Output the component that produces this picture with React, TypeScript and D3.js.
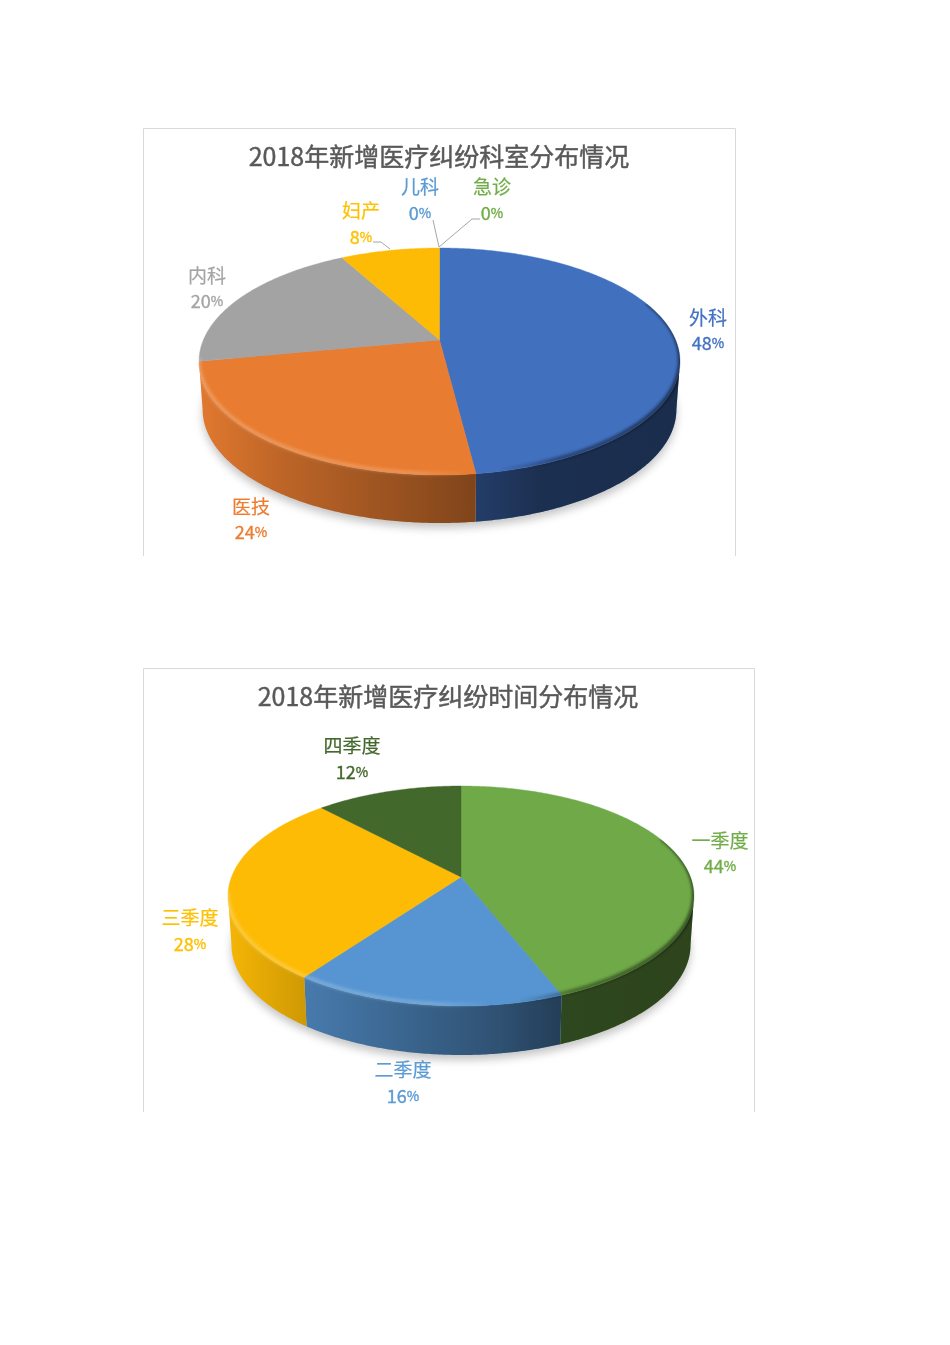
import React from "react";
import * as d3 from "d3";

// ---- data ----
const title1 = "2018年新增医疗纠纷科室分布情况";
const depts = ["外科", "医技", "内科", "妇产", "儿科", "急诊"];
const deptValues = [48, 24, 20, 8, 0, 0];
const deptColors = ["#4170bf", "#e87c30", "#a3a3a3", "#fdbb05", "#5b9bd5", "#70ad47"];
const deptTextColors = ["#4472c4", "#ed7d31", "#a5a5a5", "#ffc000", "#5b9bd5", "#70ad47"];

const title2 = "2018年新增医疗纠纷时间分布情况";
const quarters = ["一季度", "二季度", "三季度", "四季度"];
const quarterValues = [44, 16, 28, 12];
const quarterColors = ["#6fa948", "#5695d2", "#fdbb05", "#43682b"];
const quarterTextColors = ["#70ad47", "#5b9bd5", "#ffc000", "#43682b"];

// ---- layout (kept apart from the data) ----
const deptLabelPos: [number, number, number][] = [
  [708, 316, 342], [251, 505, 531], [207, 274, 300], [361, 209, 236], [420, 185, 212], [492, 185, 212],
];
const quarterLabelPos: [number, number, number][] = [
  [720, 839, 865], [403, 1068, 1095], [190, 916, 943], [352, 744, 771],
];
const deptLeaders: [number, number][][] = [
  [[373, 242], [381, 242], [390, 249]],
  [[433, 220], [439, 247]],
  [[480, 219], [472, 219], [439, 247]],
];

type Geo = { id: string; cx: number; apexY: number; top: number; bottom: number; rx: number; depth: number };
const geo1: Geo = { id: "a", cx: 439.5, apexY: 340, top: 248, bottom: 475, rx: 240.5, depth: 48 };
const geo2: Geo = { id: "b", cx: 461, apexY: 877, top: 786, bottom: 1006, rx: 233, depth: 49 };

const FONT = "'Noto Sans CJK SC','Noto Sans',sans-serif";

function projector(g: Geo) {
  const up = g.apexY - g.top;
  const down = g.bottom - g.apexY;
  const k = (down - up) / (down + up);
  const b = up * (1 + k);
  const a = g.rx * Math.sqrt(1 - k * k);
  const project = (t: number): [number, number] => {
    const u = Math.sin(t);
    const v = -Math.cos(t);
    const w = 1 - k * v;
    return [g.cx + (a * u) / w, g.apexY + (b * v) / w];
  };
  const extreme = Math.acos(-k); // angle of the right-most rim point
  return { project, extreme };
}

const line = d3.line();
const arcPts = (f: (t: number) => [number, number], s: number, e: number) => {
  const n = Math.max(2, Math.ceil(Math.abs(e - s) / 0.01));
  return d3.range(n + 1).map((i) => f(s + ((e - s) * i) / n));
};

function Pie3D({ g, values, colors }: { g: Geo; values: number[]; colors: string[] }) {
  const { project, extreme } = projector(g);
  const pie = d3.pie<number>().sort(null).value((d) => d)(values);
  const frontS = extreme;
  const frontE = 2 * Math.PI - extreme;
  const lower = (p: [number, number]): [number, number] => [g.cx + (p[0] - g.cx) * 0.985, p[1] + g.depth];

  const sidePath = (s: number, e: number) => {
    const top = arcPts(project, s, e);
    const bot = top.map(lower).reverse();
    return line([...top, ...bot]) + "Z";
  };
  const facePath = (s: number, e: number) =>
    line([[g.cx, g.apexY], ...arcPts(project, s, e)]) + "Z";

  const shadowPts = arcPts(project, 0, 2 * Math.PI).map((p) => lower(p));
  const x1 = g.cx - g.rx;
  const x2 = g.cx + g.rx;
  const shadeStops: [number, number][] = [[0, 0.03], [0.165, 0.18], [0.576, 0.45], [0.71, 0.58], [1, 0.6]];

  return (
    <g>
      <defs>
        <linearGradient id={`shade-${g.id}`} gradientUnits="userSpaceOnUse" x1={x1} x2={x2} y1={0} y2={0}>
          {shadeStops.map(([o, a]) => (
            <stop key={o} offset={o} stopColor="#000" stopOpacity={a} />
          ))}
        </linearGradient>
        <linearGradient id={`rim-${g.id}`} gradientUnits="userSpaceOnUse" x1={x1} x2={x2} y1={0} y2={0}>
          <stop offset={0} stopColor="#fff" stopOpacity={0.22} />
          <stop offset={0.45} stopColor="#fff" stopOpacity={0.18} />
          <stop offset={0.56} stopColor="#fff" stopOpacity={0} />
          <stop offset={0.62} stopColor="#000" stopOpacity={0} />
          <stop offset={0.75} stopColor="#000" stopOpacity={0.4} />
          <stop offset={1} stopColor="#000" stopOpacity={0.55} />
        </linearGradient>
        <clipPath id={`body-${g.id}`}>
          <path d={facePath(0, 2 * Math.PI)} />
          <path d={sidePath(frontS, frontE)} />
        </clipPath>
        <filter id={`sb-${g.id}`} x="-10%" y="-10%" width="120%" height="130%">
          <feGaussianBlur stdDeviation={4} />
        </filter>
        <filter id={`rb-${g.id}`} x="-5%" y="-5%" width="110%" height="110%">
          <feGaussianBlur stdDeviation={1.8} />
        </filter>
      </defs>
      <path d={line(shadowPts)! + "Z"} fill="#8a8a8a" opacity={0.5} transform={`translate(0,5)`} filter={`url(#sb-${g.id})`} />
      {pie.map((d, i) => {
        const s = Math.max(d.startAngle, frontS);
        const e = Math.min(d.endAngle, frontE);
        if (e <= s) return null;
        return (
          <g key={i}>
            <path d={sidePath(s, e)} fill={colors[i]} />
            <path d={sidePath(s, e)} fill={`url(#shade-${g.id})`} />
          </g>
        );
      })}
      {pie.map((d, i) =>
        d.endAngle > d.startAngle ? (
          <path key={i} d={facePath(d.startAngle, d.endAngle)} fill={colors[i]} stroke={colors[i]} strokeWidth={0.4} />
        ) : null
      )}
      <g clipPath={`url(#body-${g.id})`}>
        <path
          d={line(arcPts(project, extreme - 0.55, 2 * Math.PI - extreme + 0.02))!}
          fill="none"
          stroke={`url(#rim-${g.id})`}
          strokeWidth={4}
          transform="translate(0,-1.5)"
          filter={`url(#rb-${g.id})`}
        />
      </g>
    </g>
  );
}

function Label({ x, y, text, color }: { x: number; y: number; text: string; color: string }) {
  return (
    <text x={x} y={y} textAnchor="middle" dominantBaseline="central" fontSize={19} fontFamily={FONT} fill={color} stroke={color} strokeWidth={0.2}>
      {text}
    </text>
  );
}

function Pct({ x, y, value, color }: { x: number; y: number; value: number; color: string }) {
  return (
    <text x={x} y={y} textAnchor="middle" dominantBaseline="central" fontSize={18} fontFamily={FONT} fill={color} stroke={color} strokeWidth={0.35}>
      {value}
      <tspan fontSize={13.5}>%</tspan>
    </text>
  );
}

function Title({ x, y, text }: { x: number; y: number; text: string }) {
  return (
    <text x={x} y={y} textAnchor="middle" dominantBaseline="central" fontSize={25} fontFamily={FONT} fill="#595959" stroke="#595959" strokeWidth={0.45}>
      {text}
    </text>
  );
}

function Frame({ x0, x1, y0, y1 }: { x0: number; x1: number; y0: number; y1: number }) {
  return (
    <path d={`M${x0 + 0.5},${y1}V${y0 + 0.5}H${x1 + 0.5}V${y1}`} fill="none" stroke="#d9d9d9" strokeWidth={1} />
  );
}

export default function App() {
  return (
    <svg width={950} height={1345} viewBox="0 0 950 1345" style={{ position: "absolute", left: 0, top: 0, background: "#fff", filter: "blur(0.55px)" }}>
      <Frame x0={143} x1={735} y0={128} y1={556} />
      <Title x={439} y={155} text={title1} />
      <Pie3D g={geo1} values={deptValues} colors={deptColors} />
      {deptLeaders.map((pts, i) => (
        <path key={i} d={line(pts)!} fill="none" stroke="#a6a6a6" strokeWidth={1} />
      ))}
      {depts.map((n, i) => (
        <g key={n}>
          <Label x={deptLabelPos[i][0]} y={deptLabelPos[i][1]} text={n} color={deptTextColors[i]} />
          <Pct x={deptLabelPos[i][0]} y={deptLabelPos[i][2]} value={deptValues[i]} color={deptTextColors[i]} />
        </g>
      ))}

      <Frame x0={143} x1={754} y0={668} y1={1112} />
      <Title x={448} y={695} text={title2} />
      <Pie3D g={geo2} values={quarterValues} colors={quarterColors} />
      {quarters.map((n, i) => (
        <g key={n}>
          <Label x={quarterLabelPos[i][0]} y={quarterLabelPos[i][1]} text={n} color={quarterTextColors[i]} />
          <Pct x={quarterLabelPos[i][0]} y={quarterLabelPos[i][2]} value={quarterValues[i]} color={quarterTextColors[i]} />
        </g>
      ))}
    </svg>
  );
}
